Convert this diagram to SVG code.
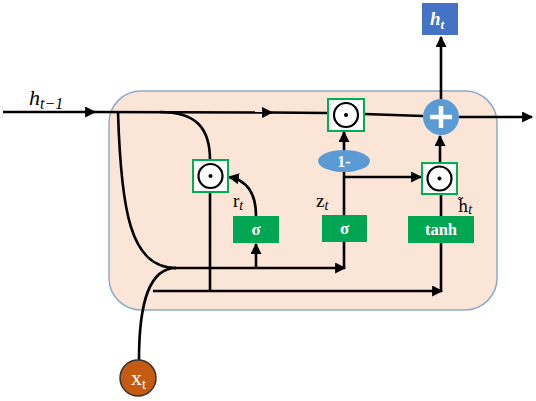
<svg xmlns="http://www.w3.org/2000/svg" width="536" height="401" viewBox="0 0 536 401">
<defs>
<marker id="arr" viewBox="0 0 10 10" refX="9" refY="5" markerWidth="11" markerHeight="11" markerUnits="userSpaceOnUse" orient="auto">
<path d="M0,0 L10,5 L0,10 z" fill="#000"/>
</marker>
<style>
.ln{fill:none;stroke:#000;stroke-width:2.6}
.ar{fill:none;stroke:#000;stroke-width:2.6;marker-end:url(#arr)}
.mb{fill:#fff;stroke:#00b050;stroke-width:2}
.mc{fill:none;stroke:#000;stroke-width:2.2}
.gate{fill:#00a651}
.gt{font-family:"Liberation Serif","DejaVu Serif",serif;font-weight:bold;fill:#fff;text-anchor:middle}
.lb{font-family:"Liberation Serif","DejaVu Serif",serif;fill:#000}
</style>
</defs>
<rect x="109" y="91" width="388" height="219" rx="32" fill="#fbe5d6" stroke="#8eaacb" stroke-width="1.5"/>

<g id="connectors">
<line class="ar" x1="3" y1="112" x2="95" y2="112"/>
<line class="ar" x1="93" y1="112" x2="272" y2="112.5"/>
<line class="ln" x1="270" y1="112.5" x2="328" y2="113"/>
<line class="ln" x1="364" y1="114" x2="423" y2="116"/>
<line class="ar" x1="459" y1="117" x2="532" y2="117"/>
<line class="ar" x1="441" y1="99" x2="441" y2="37"/>
<path class="ln" d="M160,112 C196,112 210,128 210,160"/>
<line class="ln" x1="210" y1="192" x2="210" y2="292"/>
<path class="ar" d="M256,216 C256,192 246,180 229,177"/>
<line class="ar" x1="256" y1="268" x2="256" y2="244"/>
<path class="ln" d="M118,112 C121,210 130,268 176,268"/>
<path class="ln" d="M139,360 C139,300 150,268 176,268"/>
<line class="ar" x1="174" y1="268" x2="345" y2="268"/>
<line class="ln" x1="344" y1="269" x2="344" y2="242"/>
<line class="ar" x1="153" y1="291" x2="442" y2="291"/>
<line class="ln" x1="441" y1="292" x2="441" y2="243"/>
<line class="ln" x1="441" y1="216" x2="441" y2="194"/>
<line class="ln" x1="344" y1="215" x2="344" y2="172"/>
<line class="ar" x1="344" y1="150" x2="344" y2="132"/>
<line class="ar" x1="344" y1="177" x2="421" y2="177"/>
<line class="ar" x1="440" y1="163" x2="440" y2="136"/>
</g>

<g id="h_prev_label">
<text class="lb" x="29" y="105" font-size="22" font-style="italic">h<tspan font-size="16" dy="4">t−1</tspan></text>
</g>

<g id="ht">
<rect x="422" y="3" width="36" height="32" fill="#4472c4"/>
<text x="437" y="25" font-family="Liberation Serif,DejaVu Serif,serif" font-weight="bold" font-style="italic" font-size="19" fill="#fff" text-anchor="middle">h<tspan font-size="13" dy="4">t</tspan></text>
</g>

<g id="mult1">
<rect class="mb" x="328" y="99" width="36" height="32"/>
<circle class="mc" cx="346" cy="115" r="12"/>
<circle cx="346" cy="115" r="2" fill="#000"/>
</g>

<g id="plus">
<circle cx="441" cy="117" r="18" fill="#5b9bd5"/>
<line x1="430" y1="117" x2="452" y2="117" stroke="#fff" stroke-width="4.5"/>
<line x1="441" y1="106" x2="441" y2="128" stroke="#fff" stroke-width="4.5"/>
</g>

<g id="one_minus">
<ellipse cx="344" cy="161" rx="26" ry="11" fill="#5b9bd5"/>
<text class="gt" x="344" y="166.5" font-size="16">1-</text>
</g>

<g id="mult2">
<rect class="mb" x="422" y="163" width="35" height="31"/>
<circle class="mc" cx="439.5" cy="178.5" r="12"/>
<circle cx="439.5" cy="178.5" r="2" fill="#000"/>
</g>

<g id="mult_r">
<rect class="mb" x="193" y="160" width="35" height="32"/>
<circle class="mc" cx="210.5" cy="176" r="12"/>
<circle cx="210.5" cy="176" r="2" fill="#000"/>
</g>

<g id="sigma_r">
<rect class="gate" x="233" y="216" width="46" height="27"/>
<text class="gt" x="256" y="235" font-size="17">σ</text>
</g>

<g id="sigma_z">
<rect class="gate" x="322" y="215" width="45" height="27"/>
<text class="gt" x="344.5" y="234" font-size="17">σ</text>
</g>

<g id="tanh">
<rect class="gate" x="408" y="216" width="66" height="27"/>
<text class="gt" x="441" y="235" font-size="16.5">tanh</text>
</g>

<g id="labels">
<text class="lb" x="233" y="207" font-size="19">r<tspan font-size="14" font-style="italic" dy="3">t</tspan></text>
<text class="lb" x="316" y="207" font-size="19">z<tspan font-size="14" font-style="italic" dy="3">t</tspan></text>
<text x="458" y="212" font-family="DejaVu Serif,serif" font-size="16" fill="#000">h̃<tspan font-family="Liberation Serif,serif" font-size="14" font-style="italic" dy="2">t</tspan></text>
</g>

<g id="xt">
<circle cx="138" cy="378" r="18" fill="#c55a11" stroke="#333" stroke-width="1.5"/>
<text x="131" y="385" font-family="Liberation Serif,DejaVu Serif,serif" font-size="22" fill="#fff">x<tspan font-size="15" dy="4">t</tspan></text>
</g>
</svg>
